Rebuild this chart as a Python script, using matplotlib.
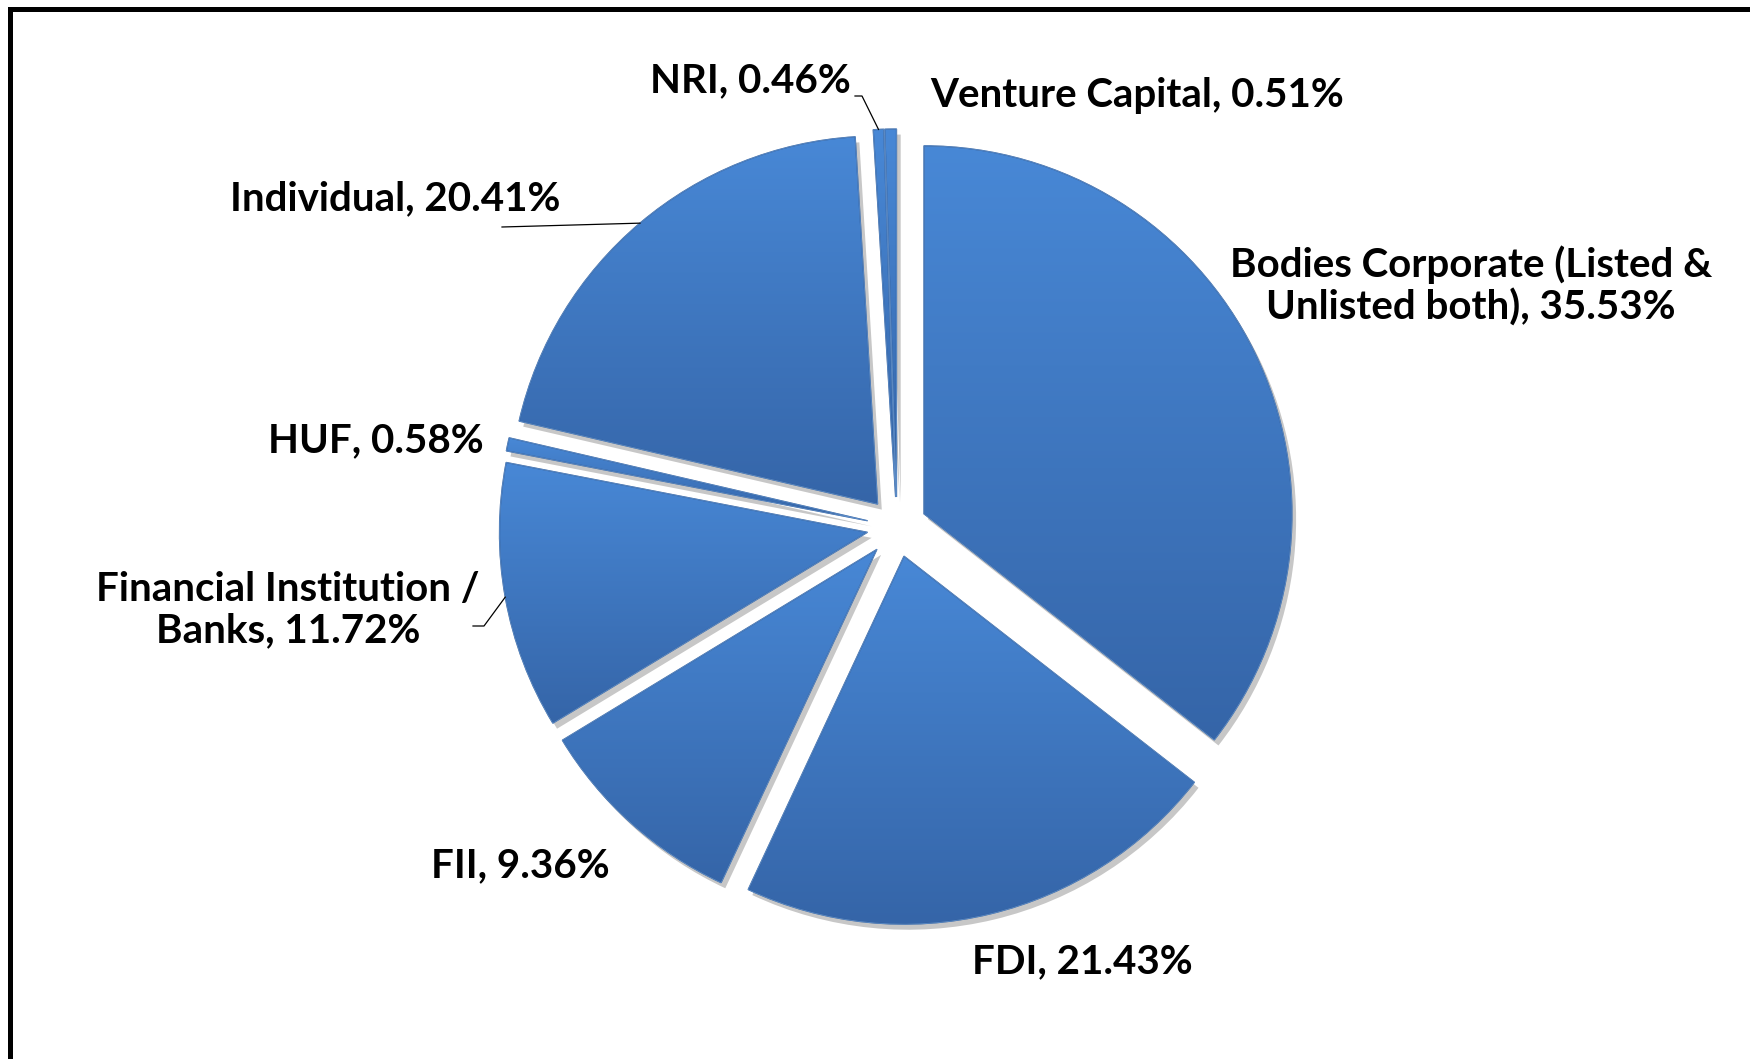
import numpy as np
import matplotlib.pyplot as plt
import matplotlib.patheffects as pe
from matplotlib.colors import LinearSegmentedColormap
from matplotlib.lines import Line2D
from matplotlib.patches import PathPatch

# shareholding pattern, clockwise from 12 o'clock
categories = ["Bodies Corporate (Listed &\nUnlisted both)", "FDI", "FII",
              "Financial Institution /\nBanks", "HUF", "Individual", "NRI",
              "Venture Capital"]
shares = [35.53, 21.43, 9.36, 11.72, 0.58, 20.41, 0.46, 0.51]

W, H = 1750, 1059
plt.rcParams['font.family'] = ['Lato', 'DejaVu Sans']

fig = plt.figure(figsize=(W / 100, H / 100), dpi=100)
ax = fig.add_axes([0, 0, 1, 1])

cx, cy, R = 897, H - 527, 368
# explode is in data units here since radius is in pixels
wedges, _ = ax.pie(shares, explode=[30] * len(shares), startangle=90,
                   counterclock=False, center=(cx, cy), radius=R,
                   wedgeprops=dict(facecolor="#4079c4", linewidth=0))

grad_cmap = LinearSegmentedColormap.from_list("blues", ["#3565a8", "#4888d6"])
grad = np.linspace(0, 1, 256).reshape(-1, 1)
for w in wedges:
    w.set_path_effects([pe.SimplePatchShadow(offset=(3, -4), shadow_rgbFace="k", alpha=0.22),
                        pe.Normal()])
    bb = w.get_path().get_extents()
    im = ax.imshow(grad, cmap=grad_cmap, extent=[bb.x0, bb.x1, bb.y0, bb.y1],
                   origin="lower", aspect="auto", interpolation="bilinear", zorder=1.1)
    im.set_clip_path(w)
    ax.add_patch(PathPatch(w.get_path(), fill=False, edgecolor="#2c5894", lw=0.9, zorder=1.2))
    ax.add_patch(PathPatch(w.get_path(), fill=False, edgecolor="#7fb0ea", lw=0.6,
                           alpha=0.6, zorder=1.3))

# label anchors in screen pixels (x, y from top), alignment
label_pos = [(1471, 286, "center"), (1082, 962, "center"), (520, 866, "center"),
             (288, 610, "center"), (376, 441, "center"), (395, 199, "center"),
             (851, 81, "right"), (930, 95, "left")]
for cat, val, (lx, ly, ha) in zip(categories, shares, label_pos):
    ax.text(lx, H - ly, f"{cat}, {val:.2f}%", ha=ha, va="center", fontsize=29,
            fontweight="bold", color="black", linespacing=1.15, zorder=3)


def arc_point(w):
    mid = np.deg2rad((w.theta1 + w.theta2) / 2)
    return w.center[0] + w.r * np.cos(mid), w.center[1] + w.r * np.sin(mid)


# leader lines: (wedge index, start points in screen px)
leaders = [(6, [(855, 96), (862, 96)]), (5, [(502, 227)]), (3, [(473, 626), (484, 626)])]
for idx, pts in leaders:
    ex, ey = arc_point(wedges[idx])
    xs = [p[0] for p in pts] + [ex]
    ys = [H - p[1] for p in pts] + [ey]
    ax.plot(xs, ys, color="black", lw=0.9, zorder=2)

ax.set_xlim(0, W)
ax.set_ylim(0, H)
ax.set_aspect("equal")
ax.axis("off")

# chart border (only top and left edges visible in the crop)
fig.add_artist(Line2D([1.0, 10 / W, 10 / W], [1 - 8.5 / H, 1 - 8.5 / H, 0.0],
                      transform=fig.transFigure, color="black", lw=3.6,
                      solid_joinstyle="miter"))

fig.savefig("out.png", dpi=100)
